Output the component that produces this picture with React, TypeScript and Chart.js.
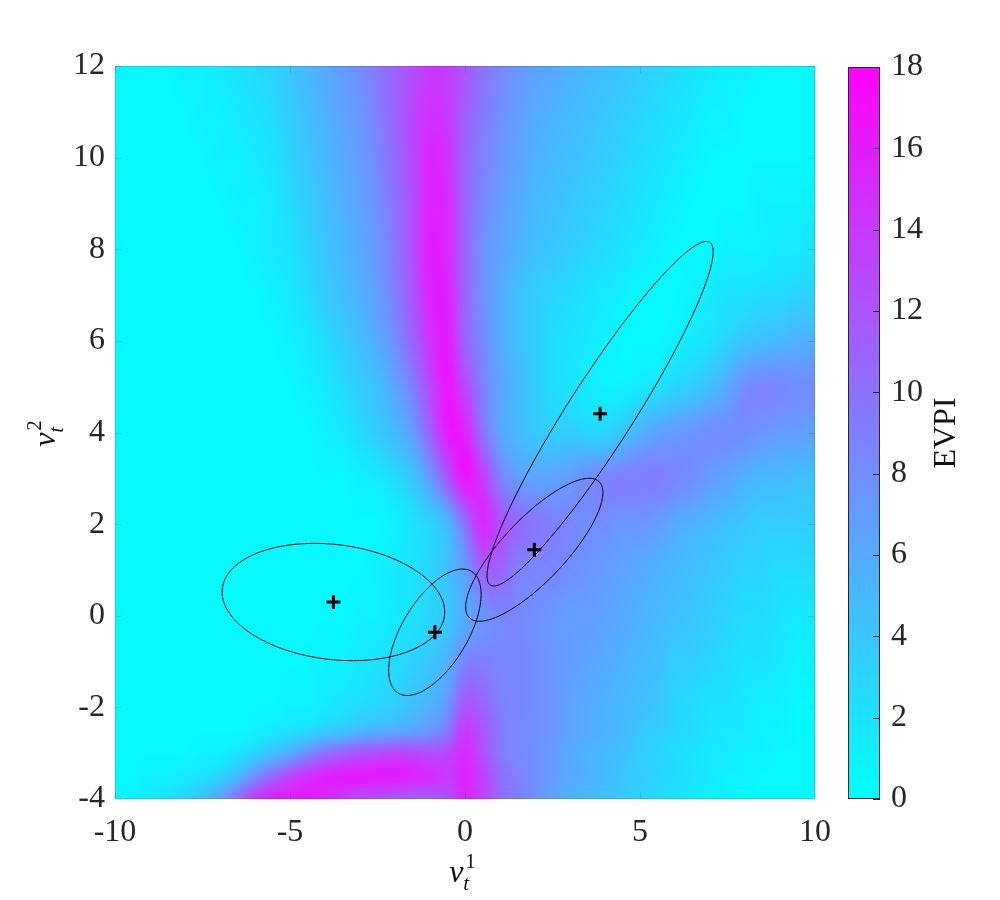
import React, { useEffect, useRef } from 'react';
import { Chart, registerables } from 'chart.js';

Chart.register(...registerables);

const FONT = '"Liberation Serif", "DejaVu Serif", serif';
const TEXT_COLOR = '#262626';

// grid nodes of the EVPI surface
const X_NODES = [-10, -9.5, -9, -8.5, -8, -7.5, -7, -6.5, -6, -5.5, -5, -4.5, -4, -3.5, -3, -2.5, -2, -1.5, -1, -0.5, 0, 0.5, 1, 1.5, 2, 2.5, 3, 3.5, 4, 4.5, 5, 5.5, 6, 6.5, 7, 7.5, 8, 8.5, 9, 9.5, 10];
const Y_NODES = [12, 11, 10, 9, 8, 7, 6, 5, 4, 3, 2, 1, 0, -1, -2, -2.5, -3, -3.5, -4];

// EVPI values, one row per Y node, one value per X node
const EVPI_Y12 = [0.5, 0.5, 0.5, 0.5, 1, 1, 1.5, 2, 2.5, 3, 4, 5, 6, 7, 8, 9.5, 11, 12.5, 14, 13.5, 12, 10, 8.5, 7.5, 6.5, 6, 5.5, 5, 4.5, 4, 3.5, 3, 2.5, 2, 1.5, 1, 1, 0.5, 0.5, 0.5, 0.5];
const EVPI_Y11 = [0.5, 0.5, 0.5, 0.5, 0.5, 1, 1, 1.5, 2, 2.5, 3.5, 4.5, 5.5, 6.5, 7.5, 9, 11, 13, 14.5, 14, 11.5, 9.5, 8, 7, 6, 5.5, 5, 4.5, 4, 3.5, 3, 2.5, 2, 1.5, 1, 1, 0.5, 0.5, 0.5, 0.5, 0.5];
const EVPI_Y10 = [0.5, 0.5, 0.5, 0.5, 0.5, 0.5, 1, 1, 1.5, 2, 3, 4, 5, 6, 7, 8.5, 10.5, 13, 15.5, 14.5, 11, 9, 7.5, 6.5, 5.5, 5, 4.5, 4, 3.5, 3, 2.5, 2, 1.5, 1, 0.5, 0.5, 0.5, 0.5, 0.5, 0.5, 0.5];
const EVPI_Y9 = [0.5, 0.5, 0.5, 0.5, 0.5, 0.5, 0.5, 1, 1, 1.5, 2.5, 3.5, 4.5, 5.5, 6.5, 8, 10, 12.5, 15.5, 15, 11, 8.5, 7, 6, 5, 4.5, 4, 3.5, 3, 2.5, 2, 1.5, 1, 0.5, 0.5, 0.5, 0.5, 1, 1, 1, 1];
const EVPI_Y8 = [0.5, 0.5, 0.5, 0.5, 0.5, 0.5, 0.5, 0.5, 1, 1.5, 2, 3, 4, 5, 6, 7.5, 9.5, 12.5, 16, 15, 11, 8, 6.5, 5.5, 4.5, 4, 3.5, 3, 2.5, 2, 1.5, 1, 0.5, 0.5, 0.5, 1, 1, 1, 1.5, 1.5, 2];
const EVPI_Y7 = [0.5, 0.5, 0.5, 0.5, 0.5, 0.5, 0.5, 0.5, 0.5, 1, 1.5, 2.5, 3.5, 4.5, 5.5, 7, 9, 12, 15.5, 15.5, 11, 8, 6, 4.5, 3.5, 3, 2.5, 2, 1.5, 1, 0.5, 0.5, 0.5, 1, 1.5, 2, 2, 2.5, 2.5, 3, 3];
const EVPI_Y6 = [0.5, 0.5, 0.5, 0.5, 0.5, 0.5, 0.5, 0.5, 0.5, 0.5, 1, 1.5, 2.5, 3.5, 4.5, 6, 8, 11, 14.5, 16, 11, 8.5, 6, 4.5, 3.5, 2.5, 2, 1.5, 1, 0.5, 0.5, 0.5, 1, 1.5, 2, 3, 4, 4.5, 5, 5.5, 5.5];
const EVPI_Y5 = [0.5, 0.5, 0.5, 0.5, 0.5, 0.5, 0.5, 0.5, 0.5, 0.5, 0.5, 1, 1.5, 2.5, 3.5, 4.5, 6.5, 9, 13, 16.5, 13, 9, 6.5, 5, 3.5, 2.5, 2, 1.5, 1, 1, 1.5, 2, 3, 3.5, 4.5, 6, 8, 8.5, 8.5, 8, 8];
const EVPI_Y4 = [0.5, 0.5, 0.5, 0.5, 0.5, 0.5, 0.5, 0.5, 0.5, 0.5, 0.5, 0.5, 1, 1.5, 2.5, 3.5, 5, 7, 11, 16, 15.5, 10, 6.5, 5, 4, 3.5, 3.5, 3, 3, 4, 5.5, 6.5, 7, 7.5, 8, 8, 8, 7.5, 7, 7, 6.5];
const EVPI_Y3 = [0.5, 0.5, 0.5, 0.5, 0.5, 0.5, 0.5, 0.5, 0.5, 0.5, 0.5, 0.5, 0.5, 0.5, 1, 1.5, 2.5, 4, 7, 12, 16.5, 14, 9, 7, 6.5, 6.5, 7, 8, 8.5, 9, 9, 9, 8.5, 8, 7, 6.5, 5.5, 5, 5, 4.5, 4.5];
const EVPI_Y2 = [0.5, 0.5, 0.5, 0.5, 0.5, 0.5, 0.5, 0.5, 0.5, 0.5, 0.5, 0.5, 0.5, 0.5, 0.5, 0.5, 1, 2, 3, 5, 10, 15, 12.5, 10.5, 9.5, 9, 8.5, 8, 8, 7.5, 7.5, 7, 6, 5.5, 5, 4.5, 4, 3.5, 3.5, 3.5, 3.5];
const EVPI_Y1 = [0.5, 0.5, 0.5, 0.5, 0.5, 0.5, 0.5, 0.5, 0.5, 0.5, 0.5, 0.5, 0.5, 0.5, 0.5, 1, 1.5, 2, 3, 4.5, 7, 11, 11, 9, 8.5, 8.5, 8, 7.5, 7, 6.5, 6, 5.5, 5, 4.5, 4, 3.5, 3, 3, 2.5, 2.5, 2.5];
const EVPI_Y0 = [0.5, 0.5, 0.5, 0.5, 0.5, 0.5, 0.5, 0.5, 0.5, 0.5, 0.5, 0.5, 0.5, 0.5, 1, 1, 1.5, 2, 3, 4, 6, 7.5, 8.5, 8.5, 8, 7.5, 7, 7, 6.5, 6, 5.5, 5, 4.5, 4, 3.5, 3, 2.5, 2.5, 2, 1.5, 1.5];
const EVPI_YM1 = [0.5, 0.5, 0.5, 0.5, 0.5, 0.5, 0.5, 0.5, 0.5, 0.5, 0.5, 0.5, 1, 1, 1.5, 2, 2.5, 3, 4, 5.5, 8.5, 9, 8.5, 8.5, 8, 7.5, 7, 6.5, 6, 5.5, 5, 4.5, 3.5, 3.5, 3, 2.5, 2, 2, 1.5, 1, 1];
const EVPI_YM2 = [0.5, 0.5, 0.5, 0.5, 0.5, 0.5, 0.5, 0.5, 0.5, 0.5, 1, 1, 1.5, 2, 2.5, 3, 3.5, 4.5, 5.5, 7.5, 12, 11, 9, 8.5, 8, 7.5, 6.5, 6, 5.5, 5, 4.5, 4, 3, 2.5, 2, 2, 1.5, 1, 1, 0.5, 0.5];
const EVPI_YM2_5 = [0.5, 0.5, 0.5, 0.5, 0.5, 0.5, 0.5, 0.5, 1, 1.5, 2, 2.5, 3.5, 4, 5, 5.5, 6, 6.5, 7.5, 9.5, 14, 12, 9.5, 8.5, 8, 7.5, 6.5, 6, 5.5, 5, 4, 3.5, 3, 2.5, 2, 1.5, 1.5, 1, 1, 0.5, 0.5];
const EVPI_YM3 = [0.5, 0.5, 0.5, 0.5, 0.5, 1, 1, 2, 3, 4.5, 6, 8, 10, 11, 12, 12.5, 13, 13, 12.5, 13, 15, 12.5, 9.5, 8.5, 8, 7, 6, 5.5, 5, 4.5, 3.5, 3, 2.5, 2, 1.5, 1.5, 1, 1, 0.5, 0.5, 0.5];
const EVPI_YM3_5 = [0.5, 0.5, 1, 1, 1.5, 2, 3, 5, 8, 10.5, 13, 14.5, 15.5, 16, 16, 16, 16, 15.5, 15, 14, 15.5, 13.5, 10.5, 9, 8, 7, 6, 5.5, 5, 4, 3.5, 3, 2.5, 2, 1.5, 1, 1, 0.5, 0.5, 0.5, 0.5];
const EVPI_YM4 = [0.5, 1, 1.5, 2, 3, 4.5, 7, 10, 14, 15.5, 16, 16, 15, 14, 13, 12.5, 12, 11.5, 11.5, 12.5, 15, 13.5, 10.5, 9, 7.5, 6.5, 5.5, 5, 4.5, 4, 3, 2.5, 2, 1.5, 1, 1, 0.5, 0.5, 0.5, 0.5, 0.5];

const EVPI_ROWS = [EVPI_Y12, EVPI_Y11, EVPI_Y10, EVPI_Y9, EVPI_Y8, EVPI_Y7, EVPI_Y6, EVPI_Y5, EVPI_Y4, EVPI_Y3, EVPI_Y2, EVPI_Y1, EVPI_Y0, EVPI_YM1, EVPI_YM2, EVPI_YM2_5, EVPI_YM3, EVPI_YM3_5, EVPI_YM4];

const EVPI_MIN = 0;
const EVPI_MAX = 18;

// axes
const X_MIN = -10;
const X_MAX = 10;
const Y_MIN = -4;
const Y_MAX = 12;
const X_TICKS = [-10, -5, 0, 5, 10];
const Y_TICKS = [-4, -2, 0, 2, 4, 6, 8, 10, 12];
const CB_TICKS = [0, 2, 4, 6, 8, 10, 12, 14, 16, 18];

// component means and spread ellipses
const MEAN_X = [-3.76, -0.86, 1.98, 3.86];
const MEAN_Y = [0.3, -0.36, 1.44, 4.41];
const SPREAD_X = [3.18, 1.32, 1.96, 3.23];
const SPREAD_Y = [1.28, 1.38, 1.56, 3.76];
const CORR = [-0.17, 0.6, 0.8, 0.94];

function coolColor(v: number): [number, number, number] {
  let t = (v - EVPI_MIN) / (EVPI_MAX - EVPI_MIN);
  t = Math.max(0, Math.min(1, t));
  return [Math.round(255 * t), Math.round(255 * (1 - t)), 255];
}

// locate v between consecutive nodes: returns [index, fraction]
function locate(nodes: number[], v: number): [number, number] {
  const n = nodes.length;
  for (let i = 0; i < n - 1; i++) {
    const a = nodes[i];
    const b = nodes[i + 1];
    const lo = Math.min(a, b);
    const hi = Math.max(a, b);
    if (v >= lo && v <= hi) return [i, (v - a) / (b - a)];
  }
  const asc = nodes[n - 1] > nodes[0];
  if ((v < nodes[0]) === asc) return [0, 0];
  return [n - 2, 1];
}

// Catmull-Rom weights for the 4 neighbouring nodes (smooth shading between nodes)
function crWeights(t: number): number[] {
  const t2 = t * t;
  const t3 = t2 * t;
  return [
    0.5 * (-t3 + 2 * t2 - t),
    0.5 * (3 * t3 - 5 * t2 + 2),
    0.5 * (-3 * t3 + 4 * t2 + t),
    0.5 * (t3 - t2),
  ];
}

const heatmapPlugin = {
  id: 'heatmap',
  beforeDatasetsDraw(chart: any) {
    const { ctx, chartArea, scales } = chart;
    const xs = scales.x;
    const ys = scales.y;
    const nx = X_NODES.length;
    const ny = Y_NODES.length;
    const x0 = Math.floor(chartArea.left);
    const y0 = Math.floor(chartArea.top);
    const w = Math.ceil(chartArea.right) - x0;
    const h = Math.ceil(chartArea.bottom) - y0;
    const off = document.createElement('canvas');
    off.width = w;
    off.height = h;
    const octx = off.getContext('2d')!;
    const img = octx.createImageData(w, h);
    const colIdx: number[][] = [];
    const colW: number[][] = [];
    for (let i = 0; i < w; i++) {
      const [c, f] = locate(X_NODES, xs.getValueForPixel(x0 + i + 0.5));
      colIdx.push([c - 1, c, c + 1, c + 2].map((k) => Math.max(0, Math.min(nx - 1, k))));
      colW.push(crWeights(f));
    }
    for (let j = 0; j < h; j++) {
      const [r, fy] = locate(Y_NODES, ys.getValueForPixel(y0 + j + 0.5));
      const rIdx = [r - 1, r, r + 1, r + 2].map((k) => Math.max(0, Math.min(ny - 1, k)));
      const wy = crWeights(fy);
      for (let i = 0; i < w; i++) {
        const ci = colIdx[i];
        const wx = colW[i];
        let v = 0;
        for (let a = 0; a < 4; a++) {
          const row = EVPI_ROWS[rIdx[a]];
          v += wy[a] * (wx[0] * row[ci[0]] + wx[1] * row[ci[1]] + wx[2] * row[ci[2]] + wx[3] * row[ci[3]]);
        }
        const [cr, cg, cb] = coolColor(v);
        const k = (j * w + i) * 4;
        img.data[k] = cr;
        img.data[k + 1] = cg;
        img.data[k + 2] = cb;
        img.data[k + 3] = 255;
      }
    }
    octx.putImageData(img, 0, 0);
    ctx.save();
    ctx.drawImage(off, x0, y0);
    ctx.restore();

    // faint axes box and inner ticks (seen through the surface)
    ctx.save();
    ctx.strokeStyle = 'rgba(38,38,38,0.14)';
    ctx.lineWidth = 1;
    ctx.strokeRect(chartArea.left + 0.5, chartArea.top + 0.5, chartArea.right - chartArea.left - 1, chartArea.bottom - chartArea.top - 1);
    ctx.beginPath();
    X_TICKS.forEach((v) => {
      const p = Math.round(xs.getPixelForValue(v)) + 0.5;
      ctx.moveTo(p, chartArea.bottom);
      ctx.lineTo(p, chartArea.bottom - 7);
      ctx.moveTo(p, chartArea.top);
      ctx.lineTo(p, chartArea.top + 7);
    });
    Y_TICKS.forEach((v) => {
      const p = Math.round(ys.getPixelForValue(v)) + 0.5;
      ctx.moveTo(chartArea.left, p);
      ctx.lineTo(chartArea.left + 7, p);
      ctx.moveTo(chartArea.right, p);
      ctx.lineTo(chartArea.right - 7, p);
    });
    ctx.stroke();
    ctx.restore();

    // spread ellipses around each mean
    ctx.save();
    ctx.strokeStyle = '#000';
    ctx.lineWidth = 1;
    for (let e = 0; e < MEAN_X.length; e++) {
      const rho = CORR[e];
      const s = Math.sqrt(1 - rho * rho);
      ctx.beginPath();
      const n = 240;
      for (let k = 0; k <= n; k++) {
        const t = (k / n) * Math.PI * 2;
        const dx = SPREAD_X[e] * Math.cos(t);
        const dy = SPREAD_Y[e] * (rho * Math.cos(t) + s * Math.sin(t));
        const px = xs.getPixelForValue(MEAN_X[e] + dx);
        const py = ys.getPixelForValue(MEAN_Y[e] + dy);
        if (k === 0) ctx.moveTo(px, py);
        else ctx.lineTo(px, py);
      }
      ctx.closePath();
      ctx.stroke();
    }
    ctx.restore();
  },
};

function drawNuLabel(ctx: CanvasRenderingContext2D, cx: number, cy: number, angle: number, sup: string) {
  ctx.save();
  ctx.translate(cx, cy);
  ctx.rotate(angle);
  ctx.fillStyle = '#111';
  ctx.textBaseline = 'alphabetic';
  ctx.textAlign = 'left';
  ctx.font = `italic 32px ${FONT}`;
  const wNu = ctx.measureText('ν').width;
  ctx.font = `italic 21px ${FONT}`;
  const wT = ctx.measureText('t').width;
  ctx.font = `21px ${FONT}`;
  const wS = ctx.measureText(sup).width;
  const total = wNu + 1 + Math.max(wT, wS + 2);
  const start = -total / 2;
  ctx.font = `italic 32px ${FONT}`;
  ctx.fillText('ν', start, 0);
  ctx.font = `italic 21px ${FONT}`;
  ctx.fillText('t', start + wNu, 8);
  ctx.font = `21px ${FONT}`;
  ctx.fillText(sup, start + wNu + 2, -14);
  ctx.restore();
}

const axisTitlePlugin = {
  id: 'axisTitles',
  afterDraw(chart: any) {
    const ctx = chart.ctx as CanvasRenderingContext2D;
    const xs = chart.scales.x;
    const ys = chart.scales.y;
    const cx = (xs.left + xs.right) / 2;
    const cy = (ys.top + ys.bottom) / 2;
    drawNuLabel(ctx, cx - 2, 882, 0, '1');
    drawNuLabel(ctx, 55, cy + 0.5, -Math.PI / 2, '2');
  },
};

const colorbarPlugin = {
  id: 'colorbar',
  afterDraw(chart: any) {
    const { ctx, chartArea, scales } = chart;
    const ys = scales.y;
    const y0 = ys.getPixelForValue(EVPI_MIN);
    const y1 = ys.getPixelForValue(EVPI_MAX);
    const [r0, g0, b0] = coolColor(EVPI_MIN);
    const [r1, g1, b1] = coolColor(EVPI_MAX);
    const grad = ctx.createLinearGradient(0, y0, 0, y1);
    grad.addColorStop(0, `rgb(${r0},${g0},${b0})`);
    grad.addColorStop(1, `rgb(${r1},${g1},${b1})`);
    ctx.save();
    ctx.fillStyle = grad;
    ctx.fillRect(chartArea.left, y1, chartArea.right - chartArea.left, y0 - y1);
    ctx.strokeStyle = '#262626';
    ctx.lineWidth = 1;
    ctx.strokeRect(chartArea.left + 0.5, y1 + 0.5, chartArea.right - chartArea.left - 1, y0 - y1 - 1);
    ctx.beginPath();
    CB_TICKS.forEach((v) => {
      const p = Math.round(ys.getPixelForValue(v)) + 0.5;
      ctx.moveTo(chartArea.right, p);
      ctx.lineTo(chartArea.right - 7, p);
    });
    ctx.stroke();
    // colorbar title
    ctx.translate(chartArea.right + 75, (y0 + y1) / 2);
    ctx.rotate(-Math.PI / 2);
    ctx.fillStyle = '#111';
    ctx.font = `32px ${FONT}`;
    ctx.textAlign = 'center';
    ctx.textBaseline = 'alphabetic';
    ctx.fillText('EVPI', 0, 0);
    ctx.restore();
  },
};

export default function App() {
  const mainRef = useRef<HTMLCanvasElement | null>(null);
  const cbRef = useRef<HTMLCanvasElement | null>(null);

  useEffect(() => {
    if (!mainRef.current || !cbRef.current) return;
    const tickFont = { family: FONT, size: 32 };
    const main = new Chart(mainRef.current, {
      type: 'scatter',
      data: {
        datasets: [
          {
            data: MEAN_X.map((x, i) => ({ x, y: MEAN_Y[i] })),
            pointStyle: 'cross',
            pointRadius: 7,
            pointHoverRadius: 7,
            pointBorderWidth: 3,
            pointBorderColor: '#000',
            pointBackgroundColor: '#000',
            showLine: false,
          } as any,
        ],
      },
      options: {
        responsive: false,
        animation: false,
        devicePixelRatio: 1,
        events: [],
        layout: { padding: { left: 15, right: 30, top: 66, bottom: 41 } },
        plugins: { legend: { display: false }, tooltip: { enabled: false } },
        scales: {
          x: {
            type: 'linear',
            min: X_MIN,
            max: X_MAX,
            afterBuildTicks: (s: any) => {
              s.ticks = X_TICKS.map((v) => ({ value: v }));
            },
            afterFit: (s: any) => {
              s.height = 60;
            },
            grid: { display: false, drawTicks: false },
            border: { display: false },
            ticks: { padding: 14, font: tickFont, color: TEXT_COLOR, maxRotation: 0, autoSkip: false },
          },
          y: {
            type: 'linear',
            min: Y_MIN,
            max: Y_MAX,
            afterBuildTicks: (s: any) => {
              s.ticks = Y_TICKS.map((v) => ({ value: v }));
            },
            afterFit: (s: any) => {
              s.width = 100;
            },
            grid: { display: false, drawTicks: false },
            border: { display: false },
            ticks: { padding: 10, font: tickFont, color: TEXT_COLOR, autoSkip: false },
          },
        },
      } as any,
      plugins: [heatmapPlugin, axisTitlePlugin],
    });

    const cb = new Chart(cbRef.current, {
      type: 'scatter',
      data: { datasets: [] },
      options: {
        responsive: false,
        animation: false,
        devicePixelRatio: 1,
        events: [],
        layout: { padding: { left: 28, right: 0, top: 67, bottom: 101 } },
        plugins: { legend: { display: false }, tooltip: { enabled: false } },
        scales: {
          x: { type: 'linear', display: false, min: 0, max: 1 },
          y: {
            type: 'linear',
            position: 'right',
            min: EVPI_MIN,
            max: EVPI_MAX,
            afterBuildTicks: (s: any) => {
              s.ticks = CB_TICKS.map((v) => ({ value: v }));
            },
            afterFit: (s: any) => {
              s.width = 120;
            },
            grid: { display: false, drawTicks: false },
            border: { display: false },
            ticks: { padding: 11, font: tickFont, color: TEXT_COLOR, autoSkip: false },
          },
        },
      } as any,
      plugins: [colorbarPlugin],
    });

    return () => {
      main.destroy();
      cb.destroy();
    };
  }, []);

  return (
    <div style={{ position: 'absolute', left: 0, top: 0, width: 1000, height: 900, background: '#fff' }}>
      <canvas ref={mainRef} width={845} height={900} style={{ position: 'absolute', left: 0, top: 0 }} />
      <canvas ref={cbRef} width={180} height={900} style={{ position: 'absolute', left: 820, top: 0 }} />
    </div>
  );
}
